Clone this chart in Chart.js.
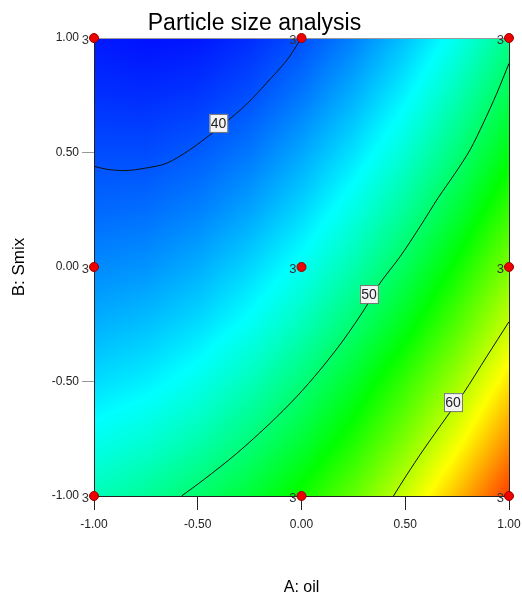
<!DOCTYPE html>
<html>
<head>
<meta charset="utf-8">
<script src="https://cdn.jsdelivr.net/npm/chart.js@4.4.1/dist/chart.umd.min.js"></script>
<style>
  html, body { margin: 0; padding: 0; background: #fff; }
  #wrap { width: 522px; height: 598px; }
</style>
</head>
<body>
<div id="wrap"><canvas id="myChart" width="522" height="598"></canvas></div>
<script>
// response grid (particle size), rows = B from 1.00 down to -1.00, cols = A from -1.00 to 1.00
const gridA = [-1, -0.75, -0.5, -0.25, 0, 0.25, 0.5, 0.75, 1];
const gridB = [1, 0.75, 0.5, 0.25, 0, -0.25, -0.5, -0.75, -1];
const sizeGrid = [
  [38.3, 38.0, 38.2, 38.9, 40.0, 41.6, 43.7, 46.2, 49.3],
  [39.0, 38.9, 39.2, 40.0, 41.3, 43.1, 45.3, 48.0, 51.2],
  [39.9, 39.9, 40.4, 41.3, 42.8, 44.7, 47.0, 49.9, 53.2],
  [40.8, 41.0, 41.6, 42.7, 44.3, 46.4, 48.9, 51.9, 55.4],
  [41.9, 42.2, 43.0, 44.3, 46.0, 48.2, 50.9, 54.1, 57.7],
  [43.1, 43.6, 44.5, 45.9, 47.8, 50.2, 53.0, 56.3, 60.1],
  [44.5, 45.1, 46.2, 47.8, 49.9, 52.4, 55.4, 58.8, 62.7],
  [46.1, 46.9, 48.1, 49.8, 51.9, 54.5, 57.7, 61.3, 65.3],
  [47.9, 48.9, 50.3, 52.0, 54.2, 56.9, 60.3, 64.0, 68.1]
];

// design points and replicate counts
const designA = [-1, 0, 1, -1, 0, 1, -1, 0, 1];
const designB = [1, 1, 1, 0, 0, 0, -1, -1, -1];
const replicates = [3, 3, 3, 3, 3, 3, 3, 3, 3];

// contour lines
const c40A = [-1, -0.94, -0.85, -0.75, -0.65, -0.54, -0.39, -0.26, -0.17, -0.07, 0];
const c40B = [0.44, 0.427, 0.421, 0.432, 0.453, 0.511, 0.613, 0.715, 0.802, 0.904, 1];
const c50A = [1, 0.941, 0.876, 0.812, 0.74, 0.66, 0.571, 0.475, 0.378, 0.31, 0.202, 0.089, -0.023, -0.152, -0.312, -0.473, -0.578];
const c50B = [0.889, 0.758, 0.628, 0.511, 0.409, 0.304, 0.176, 0.045, -0.071, -0.175, -0.319, -0.45, -0.566, -0.683, -0.814, -0.93, -1];
const c60A = [1, 0.892, 0.78, 0.7, 0.587, 0.507, 0.443];
const c60B = [-0.239, -0.392, -0.552, -0.654, -0.799, -0.908, -1];

const contourLevels = [40, 50, 60];
const labelA = [-0.40, 0.325, 0.73];
const labelB = [0.629, -0.118, -0.59];

const tickValues = [-1, -0.5, 0, 0.5, 1];

const zMin = 37.5;
const zMax = 70;

const FONT = "'Liberation Sans', Arial, sans-serif";

function pts(xs, ys) {
  return xs.map((x, i) => ({ x: x, y: ys[i] }));
}

function rainbow(z) {
  let t = (z - zMin) / (zMax - zMin);
  t = Math.max(0, Math.min(1, t));
  if (t < 0.25) return [0, 255 * t * 4, 255];
  if (t < 0.5) return [0, 255, 255 * (1 - (t - 0.25) * 4)];
  if (t < 0.75) return [255 * (t - 0.5) * 4, 255, 0];
  return [255, 255 * (1 - (t - 0.75) * 4), 0];
}

function lookup(a, b) {
  const stepA = gridA[1] - gridA[0];
  const stepB = gridB[0] - gridB[1];
  let fi = (a - gridA[0]) / stepA;
  let fj = (gridB[0] - b) / stepB;
  fi = Math.max(0, Math.min(gridA.length - 1.0001, fi));
  fj = Math.max(0, Math.min(gridB.length - 1.0001, fj));
  const i = Math.floor(fi), j = Math.floor(fj);
  const u = fi - i, v = fj - j;
  const z00 = sizeGrid[j][i], z10 = sizeGrid[j][i + 1];
  const z01 = sizeGrid[j + 1][i], z11 = sizeGrid[j + 1][i + 1];
  return (z00 * (1 - u) + z10 * u) * (1 - v) + (z01 * (1 - u) + z11 * u) * v;
}

const surfacePlugin = {
  id: 'surface',
  beforeDatasetsDraw(chart) {
    const ctx = chart.ctx;
    const area = chart.chartArea;
    const xs = chart.scales.x, ys = chart.scales.y;
    const w = Math.round(area.right - area.left);
    const h = Math.round(area.bottom - area.top);
    const off = document.createElement('canvas');
    off.width = w; off.height = h;
    const octx = off.getContext('2d');
    const img = octx.createImageData(w, h);
    for (let py = 0; py < h; py++) {
      const b = ys.getValueForPixel(area.top + py + 0.5);
      for (let px = 0; px < w; px++) {
        const a = xs.getValueForPixel(area.left + px + 0.5);
        const c = rainbow(lookup(a, b));
        const k = (py * w + px) * 4;
        img.data[k] = c[0];
        img.data[k + 1] = c[1];
        img.data[k + 2] = c[2];
        img.data[k + 3] = 255;
      }
    }
    octx.putImageData(img, 0, 0);
    ctx.save();
    ctx.drawImage(off, area.left, area.top);
    // frame
    ctx.lineWidth = 1;
    ctx.strokeStyle = '#222';
    ctx.beginPath();
    ctx.moveTo(area.left + 0.5, area.top);
    ctx.lineTo(area.left + 0.5, area.bottom + 0.5);
    ctx.lineTo(area.right + 0.5, area.bottom + 0.5);
    ctx.lineTo(area.right + 0.5, area.top);
    ctx.stroke();
    ctx.strokeStyle = '#999';
    ctx.beginPath();
    ctx.moveTo(area.left, area.top + 0.5);
    ctx.lineTo(area.right + 0.5, area.top + 0.5);
    ctx.stroke();
    // replicate counts
    ctx.font = '13px ' + FONT;
    ctx.fillStyle = '#333';
    ctx.textAlign = 'right';
    ctx.textBaseline = 'middle';
    designA.forEach((a, i) => {
      const x = xs.getPixelForValue(a);
      const y = ys.getPixelForValue(designB[i]);
      ctx.fillText(String(replicates[i]), x - 5, y + 2);
    });
    ctx.restore();
  },
  afterDatasetsDraw(chart) {
    const ctx = chart.ctx;
    const xs = chart.scales.x, ys = chart.scales.y;
    ctx.save();
    ctx.font = '14px ' + FONT;
    ctx.textAlign = 'center';
    ctx.textBaseline = 'middle';
    contourLevels.forEach((lvl, i) => {
      const x = xs.getPixelForValue(labelA[i]);
      const y = ys.getPixelForValue(labelB[i]);
      ctx.fillStyle = '#f4f4f4';
      ctx.fillRect(x - 9, y - 9, 18, 18);
      ctx.strokeStyle = '#777';
      ctx.lineWidth = 1;
      ctx.strokeRect(x - 9 + 0.5, y - 9 + 0.5, 18, 18);
      ctx.fillStyle = '#222';
      ctx.fillText(String(lvl), x, y + 1);
    });
    ctx.restore();
  }
};

const lineStyle = {
  showLine: true,
  pointRadius: 0,
  borderColor: '#111',
  borderWidth: 1,
  tension: 0.3,
  fill: false
};

const data = {
  datasets: [
    {
      label: 'design',
      data: pts(designA, designB),
      pointRadius: 4.5,
      pointBackgroundColor: '#ee0000',
      pointBorderColor: '#990000',
      pointBorderWidth: 1,
      showLine: false,
      clip: false
    },
    Object.assign({ label: '40', data: pts(c40A, c40B) }, lineStyle),
    Object.assign({ label: '50', data: pts(c50A, c50B) }, lineStyle),
    Object.assign({ label: '60', data: pts(c60A, c60B) }, lineStyle)
  ]
};

const config = {
  type: 'scatter',
  data: data,
  plugins: [surfacePlugin],
  options: {
    responsive: false,
    animation: false,
    layout: { padding: { top: 0, right: 13, bottom: 0, left: 0 } },
    plugins: {
      legend: { display: false },
      tooltip: { enabled: false },
      title: {
        display: true,
        text: 'Particle size analysis',
        color: '#000',
        font: { family: FONT, size: 23, weight: 'normal' },
        padding: { top: 10, bottom: 0.4 }
      }
    },
    scales: {
      x: {
        type: 'linear',
        min: -1,
        max: 1,
        afterBuildTicks: (s) => { s.ticks = tickValues.map(v => ({ value: v })); },
        afterFit: (s) => { s.height = 102; s.paddingLeft = 0; s.paddingRight = 0; },
        ticks: {
          color: '#222',
          padding: 7,
          font: { family: FONT, size: 12 },
          callback: (v) => Number(v).toFixed(2)
        },
        grid: { drawOnChartArea: false, drawTicks: true, tickLength: 14, tickColor: '#222' },
        border: { display: false },
        title: {
          display: true,
          text: 'A: oil',
          color: '#000',
          font: { family: FONT, size: 16 },
          padding: { top: 0, bottom: 1 }
        }
      },
      y: {
        type: 'linear',
        min: -1,
        max: 1,
        afterBuildTicks: (s) => { s.ticks = tickValues.map(v => ({ value: v })); },
        afterFit: (s) => { s.width = 94; s.paddingTop = 0; s.paddingBottom = 0; },
        ticks: {
          color: '#222',
          padding: 3,
          font: { family: FONT, size: 12 },
          callback: (v) => Number(v).toFixed(2)
        },
        grid: {
          drawOnChartArea: false,
          drawTicks: true,
          tickLength: 12,
          tickColor: (c) => (c.tick && Math.abs(c.tick.value) % 1 === 0) ? 'rgba(0,0,0,0)' : '#999'
        },
        border: { display: false },
        title: {
          display: true,
          text: 'B: Smix',
          color: '#000',
          font: { family: FONT, size: 17 },
          padding: { top: 9, bottom: 0 }
        }
      }
    }
  }
};

const myChart = new Chart(document.getElementById('myChart'), config);
</script>
</body>
</html>
